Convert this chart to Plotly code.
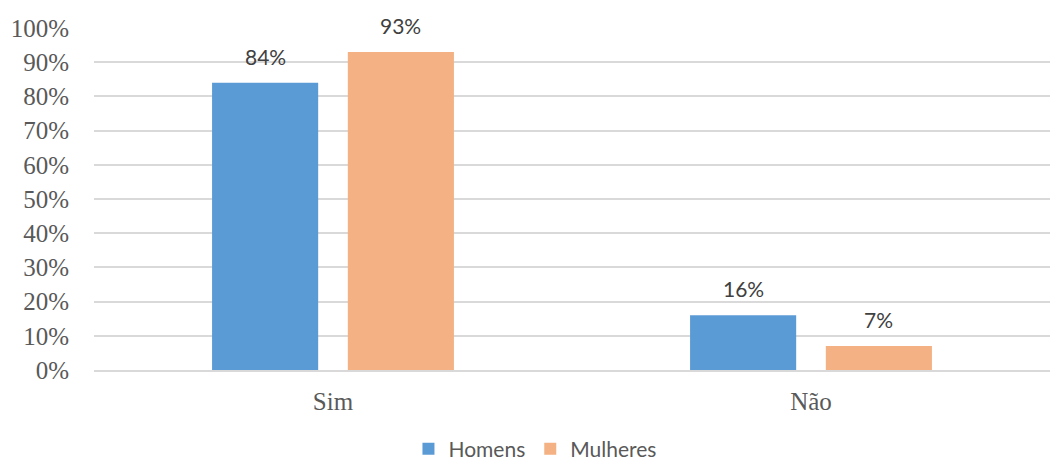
import plotly.graph_objects as go

categories = ["Sim", "Não"]
homens = [0.84, 0.16]
mulheres = [0.93, 0.07]
series_names = ["Homens", "Mulheres"]
tick_vals = [i / 10 for i in range(11)]
tick_text = [f"{i * 10}%" for i in range(11)]

colors = ["#5b9bd5", "#f4b183"]
bar_width = 0.222
offsets = [-0.253, 0.031]

fig = go.Figure()
for name, vals, col, off in zip(series_names, [homens, mulheres], colors, offsets):
    fig.add_trace(go.Bar(
        x=categories, y=vals, name=name,
        marker=dict(color=col, line=dict(width=0)),
        width=bar_width, offset=off,
    ))
    for cat_idx, v in enumerate(vals):
        fig.add_annotation(
            x=cat_idx + off + bar_width / 2, y=v, xref="x", yref="y",
            text=f"{round(v * 100)}%", showarrow=False,
            yanchor="bottom", yshift=12,
            font=dict(family="Lato, Open Sans, sans-serif", size=21, color="#404040"),
        )

fig.update_layout(
    barmode="overlay",
    width=1051, height=462,
    margin=dict(l=94, r=1, t=28, b=92),
    paper_bgcolor="white", plot_bgcolor="white",
    showlegend=True,
    legend=dict(
        orientation="h", xref="container", yref="container",
        x=0.509, xanchor="center", y=0.028, yanchor="middle",
        font=dict(family="Lato, Open Sans, sans-serif", size=21, color="#595959"),
        itemwidth=30, traceorder="normal",
    ),
)
fig.update_yaxes(
    range=[0, 1], tickvals=tick_vals, ticktext=tick_text,
    showgrid=True, gridcolor="#d9d9d9", gridwidth=1.5,
    zeroline=False, showline=False, ticks="",
    ticklabelstandoff=24,
    tickfont=dict(family="Liberation Serif, Times New Roman, serif", size=25, color="#595959"),
)
fig.update_xaxes(
    type="category", range=[-0.5, 1.5],
    showline=True, linecolor="#d9d9d9", linewidth=1.5,
    showgrid=False, ticks="", ticklabelstandoff=8,
    tickfont=dict(family="Liberation Serif, Times New Roman, serif", size=25, color="#595959"),
)

fig.write_html("out.html")
